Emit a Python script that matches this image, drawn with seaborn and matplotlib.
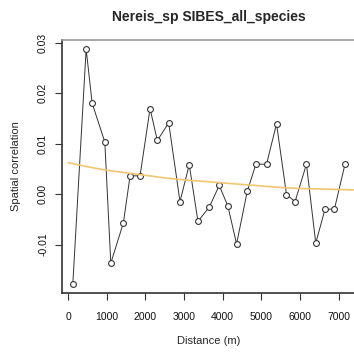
import numpy as np
import pandas as pd
import matplotlib
matplotlib.use("Agg")
import matplotlib.pyplot as plt
import seaborn as sns

# Correlogram values
distance = [120, 465, 620, 948, 1103, 1429, 1602, 1860, 2119, 2308, 2602, 2894,
            3134, 3359, 3651, 3910, 4134, 4359, 4634, 4858, 5134, 5393, 5651,
            5873, 6167, 6408, 6649, 6891, 7165]
correlation = [-0.0178, 0.0287, 0.0180, 0.0103, -0.0137, -0.0057, 0.0036, 0.0036,
               0.0169, 0.0106, 0.0141, -0.0015, 0.0058, -0.0054, -0.0026, 0.0017,
               -0.0024, -0.0099, 0.0005, 0.0059, 0.0059, 0.0139, -0.0001, -0.0015,
               0.0059, -0.0097, -0.0030, -0.0030, 0.0059]

# fitted trend (orange)
fit_distance = [0, 500, 1000, 1500, 2000, 2500, 3000, 3500, 4000, 4500, 5000,
                5500, 6000, 6500, 7000, 7450]
fit_value = [0.0062, 0.0054, 0.0047, 0.0042, 0.0037, 0.0032, 0.0028, 0.0025,
             0.0022, 0.0019, 0.0016, 0.0013, 0.0011, 0.0010, 0.0009, 0.0008]

x_ticks = [0, 1000, 2000, 3000, 4000, 5000, 6000, 7000]
y_ticks = [-0.01, 0.00, 0.01, 0.02, 0.03]
y_ticklabels = ["-0.01", "0.00", "0.01", "0.02", "0.03"]

sns.set_style("white")
plt.rcParams['font.family'] = ['Liberation Sans', 'DejaVu Sans']

df = pd.DataFrame({"distance": distance, "correlation": correlation})
fit = pd.DataFrame({"distance": fit_distance, "value": fit_value})

fig = plt.figure(figsize=(3.54, 3.58), dpi=100)
ax = fig.add_axes([62 / 354, 65 / 358, 294 / 354, 253 / 358])

sns.lineplot(data=df, x="distance", y="correlation", ax=ax, color="#333333",
             linewidth=0.7, marker="o", markersize=4.2, markerfacecolor="white",
             markeredgecolor="#333333", markeredgewidth=0.8)
sns.lineplot(data=fit, x="distance", y="value", ax=ax, color="#f0c672",
             linewidth=1.2)

ax.set_xlim(-160, 7450)
ax.set_ylim(-0.0196, 0.0305)
ax.set_xticks(x_ticks)
ax.set_xticklabels([str(t) for t in x_ticks], fontsize=7.5)
ax.set_yticks(y_ticks)
ax.set_yticklabels(y_ticklabels, fontsize=7.5, rotation=90, va="center")
ax.tick_params(axis="both", direction="out", length=5, width=0.8, color="#333333",
               labelcolor="#111111", bottom=True, left=True)
ax.tick_params(axis="x", pad=9)
ax.tick_params(axis="y", pad=5)

for side in ["left", "bottom"]:
    ax.spines[side].set_color("#333333")
    ax.spines[side].set_linewidth(1.2)
for side in ["top", "right"]:
    ax.spines[side].set_color("#999999")
    ax.spines[side].set_linewidth(1.2)

ax.set_xlabel("Distance (m)", fontsize=8, labelpad=10)
ax.set_ylabel("Spatial correlation", fontsize=8, labelpad=12)
ax.set_title("Nereis_sp SIBES_all_species", fontsize=10, fontweight="bold", pad=14)

fig.savefig("out.png", dpi=100)
